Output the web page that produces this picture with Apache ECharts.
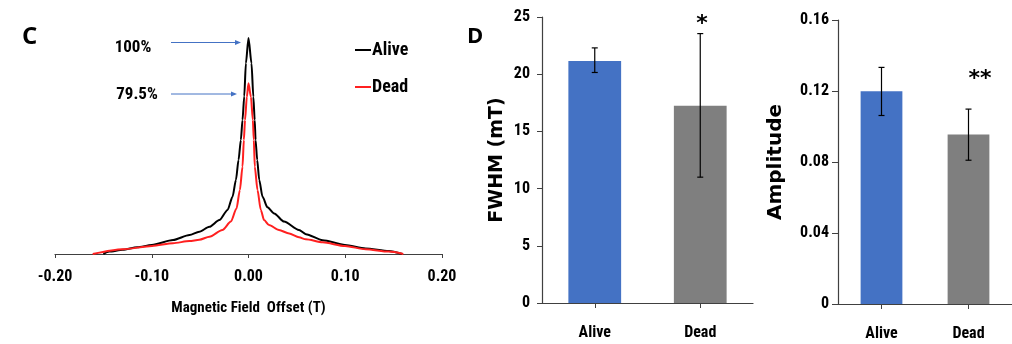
<!DOCTYPE html>
<html>
<head>
<meta charset="utf-8">
<script src="https://cdn.jsdelivr.net/npm/echarts@6/dist/echarts.min.js"></script>
<style>
html,body{margin:0;padding:0;background:#fff;}
#c{width:1012px;height:344px;}
</style>
</head>
<body>
<div id="c"></div>
<script>
// ---- Panel C: normalised lineshape (peak of Alive = 1) ----
const aliveCurve = [
  [-0.150, 0.000], [-0.144, 0.011], [-0.130, 0.020], [-0.115, 0.031], [-0.100, 0.042],
  [-0.078, 0.065], [-0.061, 0.088], [-0.0509, 0.103], [-0.0404, 0.126], [-0.0301, 0.157],
  [-0.0216, 0.204], [-0.0165, 0.265], [-0.0130, 0.343], [-0.0103, 0.435], [-0.0079, 0.528],
  [-0.0062, 0.620], [-0.0044, 0.730], [-0.0027, 0.883], [0.0000, 1.000],
  [0.0031, 0.883], [0.0050, 0.728], [0.0064, 0.620], [0.0073, 0.528], [0.0090, 0.435],
  [0.0111, 0.343], [0.0145, 0.265], [0.0196, 0.216], [0.0265, 0.188], [0.0367, 0.150],
  [0.0522, 0.111], [0.0593, 0.092], [0.0766, 0.064], [0.0997, 0.042], [0.1210, 0.026],
  [0.1450, 0.014], [0.1590, 0.000]
];
const deadCurve = [
  [-0.161, 0.000], [-0.130, 0.022], [-0.0996, 0.037], [-0.078, 0.050], [-0.061, 0.060],
  [-0.0509, 0.066], [-0.0404, 0.080], [-0.0270, 0.111], [-0.0182, 0.150], [-0.0124, 0.211],
  [-0.0089, 0.296], [-0.0062, 0.404], [-0.0048, 0.528], [-0.0036, 0.620], [-0.0017, 0.728],
  [0.0000, 0.790],
  [0.0025, 0.728], [0.0045, 0.620], [0.0055, 0.528], [0.0065, 0.404], [0.0093, 0.296],
  [0.0127, 0.204], [0.0161, 0.157], [0.0212, 0.134], [0.0315, 0.111], [0.0420, 0.095],
  [0.0522, 0.077], [0.0593, 0.068], [0.0766, 0.054], [0.0997, 0.037], [0.1210, 0.022],
  [0.1450, 0.011], [0.1600, 0.000]
];
const curveNames = ['Alive', 'Dead'];
const curveColors = ['#000000', '#ff2020'];
const xTicksC = [-0.2, -0.1, 0, 0.1, 0.2];
const peakLabels = ['100%', '79.5%'];

// ---- Panel D ----
const groups = ['Alive', 'Dead'];
const barColors = ['#4472C4', '#7F7F7F'];
const fwhmMean = [21.15, 17.25];
const fwhmLow = [20.15, 11.0];
const fwhmHigh = [22.3, 23.55];
const ampMean = [0.1198, 0.0955];
const ampLow = [0.1062, 0.0810];
const ampHigh = [0.1333, 0.1098];
const fwhmTicks = [0, 5, 10, 15, 20, 25];
const ampTicks = [0, 0.04, 0.08, 0.12, 0.16];
const significance = ['*', '**'];

const cond = "'Liberation Sans Narrow','Arial Narrow','Roboto Condensed',Lato,sans-serif";
const wide = "'DejaVu Sans',sans-serif";
const axisCol = '#404040';

function errorBarSeries(xi, yi, lows, highs) {
  return {
    type: 'custom', xAxisIndex: xi, yAxisIndex: yi, z: 5,
    data: groups.map((g, i) => [i, lows[i], highs[i]]),
    renderItem: function (params, api) {
      const lo = api.coord([api.value(0), api.value(1)]);
      const hi = api.coord([api.value(0), api.value(2)]);
      const cap = 3;
      const st = { stroke: '#000', lineWidth: 1.2 };
      return { type: 'group', children: [
        { type: 'line', shape: { x1: lo[0], y1: lo[1], x2: hi[0], y2: hi[1] }, style: st },
        { type: 'line', shape: { x1: lo[0] - cap, y1: lo[1], x2: lo[0] + cap, y2: lo[1] }, style: st },
        { type: 'line', shape: { x1: hi[0] - cap, y1: hi[1], x2: hi[0] + cap, y2: hi[1] }, style: st }
      ]};
    }
  };
}

const chart = echarts.init(document.getElementById('c'), null, { renderer: 'canvas' });

const option = {
  animation: false,
  backgroundColor: '#fff',
  grid: [
    { left: 55, width: 387, top: 38, bottom: 90 },
    { left: 542, width: 211, top: 17, bottom: 41 },
    { left: 838, width: 190, top: 20, bottom: 40 }
  ],
  legend: {
    data: curveNames,
    orient: 'vertical',
    left: 350, top: 36,
    itemWidth: 16, itemHeight: 2, itemGap: 19,
    icon: 'rect',
    textStyle: { fontFamily: cond, fontWeight: 'bold', fontSize: 18, color: '#000', padding: [0, 0, 0, -4] }
  },
  xAxis: [
    {
      type: 'value', gridIndex: 0, min: -0.2, max: 0.2, interval: 0.1,
      axisLine: { lineStyle: { color: axisCol, width: 1.2 } },
      axisTick: { show: true, length: 4, lineStyle: { color: axisCol } },
      splitLine: { show: false },
      axisLabel: { margin: 15, fontFamily: cond, fontWeight: 'bold', fontSize: 16, color: '#000',
        formatter: v => v.toFixed(2) },
      name: 'Magnetic Field  Offset (T)', nameLocation: 'middle', nameGap: 54,
      nameTextStyle: { fontFamily: cond, fontWeight: 'bold', fontSize: 15, color: '#000', verticalAlign: 'middle' }
    },
    {
      type: 'category', gridIndex: 1, data: groups,
      axisLine: { lineStyle: { color: axisCol, width: 1.2 } },
      axisTick: { show: true, alignWithLabel: true, length: 5, lineStyle: { color: axisCol } },
      axisLabel: { margin: 22, fontFamily: cond, fontWeight: 'bold', fontSize: 16, color: '#000' }
    },
    {
      type: 'category', gridIndex: 2, data: groups,
      axisLine: { lineStyle: { color: axisCol, width: 1.2 } },
      axisTick: { show: true, alignWithLabel: true, length: 5, lineStyle: { color: axisCol } },
      axisLabel: { margin: 22, fontFamily: cond, fontWeight: 'bold', fontSize: 16, color: '#000' }
    }
  ],
  yAxis: [
    { type: 'value', gridIndex: 0, min: 0, max: 1, show: false, splitLine: { show: false } },
    {
      type: 'value', gridIndex: 1, min: 0, max: 25, interval: 5,
      axisLine: { show: true, lineStyle: { color: axisCol, width: 1.2 } },
      axisTick: { show: true, length: 5, lineStyle: { color: axisCol } },
      splitLine: { show: false },
      axisLabel: { margin: 12, fontFamily: cond, fontWeight: 'bold', fontSize: 16, color: '#000' },
      name: 'FWHM (mT)', nameLocation: 'middle', nameGap: 45, nameRotate: 90,
      nameTextStyle: { fontFamily: wide, fontWeight: 'bold', fontSize: 19, color: '#000', verticalAlign: 'middle' }
    },
    {
      type: 'value', gridIndex: 2, min: 0, max: 0.16, interval: 0.04,
      axisLine: { show: true, lineStyle: { color: axisCol, width: 1.2 } },
      axisTick: { show: true, length: 6, lineStyle: { color: axisCol } },
      splitLine: { show: false },
      axisLabel: { margin: 9, fontFamily: cond, fontWeight: 'bold', fontSize: 16, color: '#000',
        formatter: v => v === 0 ? '0' : v.toFixed(2) },
      name: 'Amplitude', nameLocation: 'middle', nameGap: 62, nameRotate: 90,
      nameTextStyle: { fontFamily: wide, fontWeight: 'bold', fontSize: 20, color: '#000', verticalAlign: 'middle' }
    }
  ],
  series: [
    {
      name: curveNames[0], type: 'line', xAxisIndex: 0, yAxisIndex: 0, data: aliveCurve,
      showSymbol: false, smooth: 0.25, smoothMonotone: 'x',
      lineStyle: { color: curveColors[0], width: 2 }, itemStyle: { color: curveColors[0] }
    },
    {
      name: curveNames[1], type: 'line', xAxisIndex: 0, yAxisIndex: 0, data: deadCurve,
      showSymbol: false, smooth: 0.25, smoothMonotone: 'x',
      lineStyle: { color: curveColors[1], width: 2 }, itemStyle: { color: curveColors[1] }
    },
    {
      name: 'FWHM', type: 'bar', xAxisIndex: 1, yAxisIndex: 1, barWidth: '50%',
      data: fwhmMean.map((v, i) => ({ value: v, itemStyle: { color: barColors[i] } }))
    },
    errorBarSeries(1, 1, fwhmLow, fwhmHigh),
    {
      name: 'Amplitude', type: 'bar', xAxisIndex: 2, yAxisIndex: 2, barWidth: '48%',
      data: ampMean.map((v, i) => ({ value: v, itemStyle: { color: barColors[i] } }))
    },
    errorBarSeries(2, 2, ampLow, ampHigh)
  ],
  graphic: [
    { type: 'text', left: 22, top: 25, style: { text: 'C', fontFamily: "'Open Sans',sans-serif", fontWeight: 'bold', fontSize: 24, fill: '#000' } },
    { type: 'text', left: 467, top: 26, style: { text: 'D', fontFamily: "'Open Sans',sans-serif", fontWeight: 'bold', fontSize: 22, fill: '#000' } },
    { type: 'text', x: 133, y: 48, style: { text: peakLabels[0], align: 'center', verticalAlign: 'middle', fontFamily: cond, fontWeight: 'bold', fontSize: 17, fill: '#000' } },
    { type: 'text', x: 137, y: 95, style: { text: peakLabels[1], align: 'center', verticalAlign: 'middle', fontFamily: cond, fontWeight: 'bold', fontSize: 17, fill: '#000' } },
    { type: 'line', shape: { x1: 171, y1: 42.5, x2: 236, y2: 42.5 }, style: { stroke: '#4472C4', lineWidth: 1 } },
    { type: 'polygon', shape: { points: [[241, 42.5], [235, 40], [235, 45]] }, style: { fill: '#4472C4' } },
    { type: 'line', shape: { x1: 171, y1: 94, x2: 232, y2: 94 }, style: { stroke: '#4472C4', lineWidth: 1 } },
    { type: 'polygon', shape: { points: [[237, 94], [231, 91.5], [231, 96.5]] }, style: { fill: '#4472C4' } },
    { type: 'text', x: 702, y: 24, style: { text: significance[0], align: 'center', verticalAlign: 'middle', fontFamily: wide, fontWeight: 'bold', fontSize: 22, fill: '#000' } },
    { type: 'text', x: 980, y: 79, style: { text: significance[1], align: 'center', verticalAlign: 'middle', fontFamily: wide, fontWeight: 'bold', fontSize: 22, fill: '#000' } }
  ]
};
chart.setOption(option);
</script>
</body>
</html>
